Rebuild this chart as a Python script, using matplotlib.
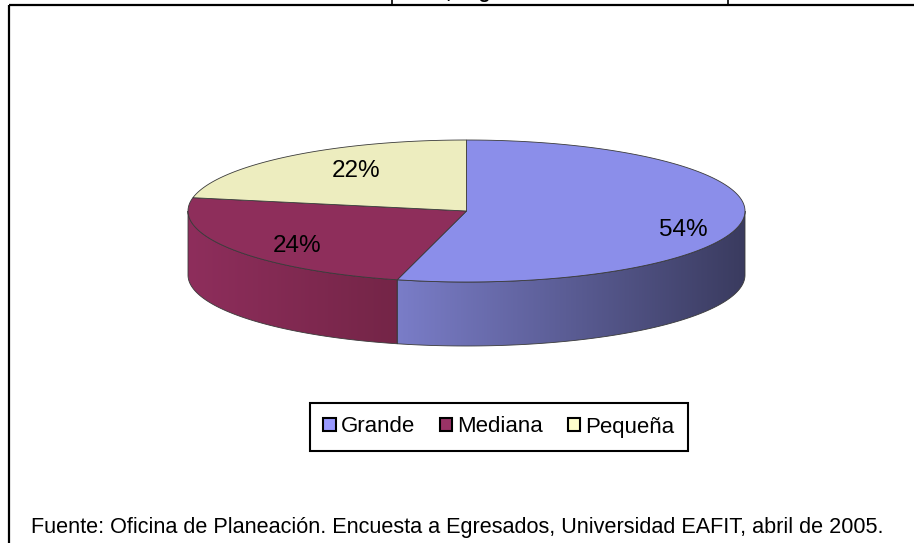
import matplotlib
matplotlib.use("Agg")

import matplotlib.pyplot as plt
import numpy as np
from matplotlib.colors import LinearSegmentedColormap
from matplotlib.patches import Patch, Polygon, Rectangle

# --- Data -------------------------------------------------------------------
categories = ["Grande", "Mediana", "Pequeña"]
shares = [54, 24, 22]
top_colors = ["#8B8EEA", "#8E2E5B", "#EDEDBF"]
side_colors = [("#7A7DC8", "#3A3B5F"), ("#8E2E5C", "#742547"), ("#C8C8A0", "#A0A080")]
legend_colors = ["#9999FF", "#993366", "#FFFFCC"]
title = "Total, según tamaño"
footnote = "Fuente: Oficina de Planeación. Encuesta a Egresados, Universidad EAFIT, abril de 2005."

# --- Layout (pixels, y grows downward) ----------------------------------------
W, H = 914, 543
CX, CY = 466.5, 211      # centre of the top face
RX, RY = 278.5, 71       # ellipse half-axes
DEPTH = 64               # thickness of the 3-D rim
START = 90               # first slice starts at 12 o'clock, goes clockwise
EDGE = "#3a3a3a"
label_xy = [(683, 230), (297, 246), (356, 171)]


def ellipse_pts(t0, t1, n=150):
    t = np.radians(np.linspace(t0, t1, n))
    return CX + RX * np.cos(t), CY - RY * np.sin(t)


plt.rcParams["font.family"] = ["Liberation Sans", "DejaVu Sans"]
fig = plt.figure(figsize=(W / 100, H / 100), dpi=100)
ax = fig.add_axes([0, 0, 1, 1])

sweep = np.array(shares) / sum(shares) * 360
ends = START - np.cumsum(sweep)
starts = ends + sweep

# front rim of each slice (only the part facing the viewer), with a gradient
grad = np.linspace(0, 1, 256)[None, :]
for i, (hi, lo) in enumerate(zip(starts, ends)):
    a, b = max(lo, -180), min(hi, 0)
    if a >= b:
        continue
    xs, ys = ellipse_pts(a, b)
    pts = np.column_stack([np.r_[xs, xs[::-1]], np.r_[ys, ys[::-1] + DEPTH]])
    side = Polygon(pts, closed=True, facecolor="none", edgecolor=EDGE, lw=0.6, zorder=3)
    ax.add_patch(side)
    cmap = LinearSegmentedColormap.from_list(f"side{i}", side_colors[i])
    im = ax.imshow(grad, cmap=cmap, aspect="auto", zorder=2,
                   extent=(xs.min(), xs.max(), ys.max() + DEPTH, ys.min()))
    im.set_clip_path(side)

# top faces
for i, (hi, lo) in enumerate(zip(starts, ends)):
    xs, ys = ellipse_pts(hi, lo)
    pts = np.column_stack([np.r_[CX, xs], np.r_[CY, ys]])
    ax.add_patch(Polygon(pts, closed=True, facecolor=top_colors[i],
                         edgecolor=EDGE, lw=0.6, zorder=4))

for (x, y), v in zip(label_xy, shares):
    ax.text(x, y, f"{v}%", ha="center", va="center", fontsize=17.5, zorder=5)

# outer frame and the (cropped) title box
ax.add_patch(Rectangle((9, 5), 1000, 1000, fill=False, lw=1.6, edgecolor="black", clip_on=False))
ax.add_patch(Rectangle((392, -30), 336, 35, fill=False, lw=1.2, edgecolor="black", clip_on=False))
ax.text(401, -1.5, title, ha="left", va="baseline", fontsize=14, fontweight="bold", clip_on=False)

ax.set_xlim(0, W)
ax.set_ylim(H, 0)
ax.axis("off")

handles = [Patch(facecolor=c, edgecolor="black", lw=1.5) for c in legend_colors]
leg = fig.legend(handles, categories, loc="center", bbox_to_anchor=(499 / W, 1 - 427 / H),
                 ncol=3, fontsize=16, frameon=True, fancybox=False, edgecolor="black",
                 handlelength=0.55, handleheight=0.55, handletextpad=0.25,
                 columnspacing=1.1, borderpad=0.6)
leg.get_frame().set_linewidth(1.5)
leg.get_frame().set_alpha(1)

fig.text(31 / W, 1 - 533 / H, footnote, fontsize=15.6, va="baseline")

fig.savefig("out.png", dpi=100)
